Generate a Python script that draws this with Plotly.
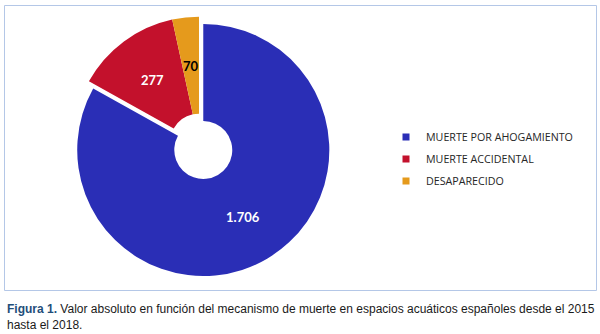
import math
import plotly.graph_objects as go

categories = ["MUERTE POR AHOGAMIENTO", "MUERTE ACCIDENTAL", "DESAPARECIDO"]
values = [1706, 277, 70]
value_labels = ["1.706", "277", "70"]
colors = ["#2A2EB6", "#C3112C", "#E59A1C"]
label_colors = ["white", "white", "black"]
pulls = [0.067, 0, 0]
HOLE = 0.23

W, H = 600, 334
# pie placement (pixels from top-left)
CX, CY, HALF = 199.0, 142.7, 134.5
R = HALF / (1 + max(pulls))  # radius plotly gives the pie

fig = go.Figure()

fig.add_trace(go.Pie(
    labels=categories,
    values=values,
    textinfo="none",
    marker=dict(colors=colors, line=dict(width=0)),
    sort=False,
    direction="clockwise",
    rotation=0,
    hole=HOLE,
    pull=pulls,
    showlegend=False,
    domain=dict(x=[(CX - HALF) / W, (CX + HALF) / W],
                y=[(H - CY - HALF) / H, (H - CY + HALF) / H]),
    hoverinfo="label+value",
))

# value labels placed in the middle of each ring segment
total = sum(values)
annotations = []
cum = 0
for v, txt, pcol, pull in zip(values, value_labels, label_colors, pulls):
    mid = (cum + v / 2) / total * 2 * math.pi
    cum += v
    dist = pull * R + R * (1 + HOLE) / 2
    px = CX + dist * math.sin(mid)
    py = CY - dist * math.cos(mid)
    annotations.append(dict(
        xref="paper", yref="paper", x=px / W, y=1 - py / H,
        xanchor="center", yanchor="middle", showarrow=False,
        text=f"<b>{txt}</b>",
        font=dict(family="Lato", size=13, color=pcol),
    ))

# legend entries (small square symbols like the original)
for i, (cat, col) in enumerate(zip(categories, colors)):
    fig.add_trace(go.Scatter(
        x=[None], y=[None], mode="markers", name=cat,
        marker=dict(symbol="square", size=7, color=col),
        legendgroup=f"g{i}", showlegend=True,
    ))

annotations.append(dict(
    xref="paper", yref="paper", x=5 / W, y=(H - 300) / H,
    xanchor="left", yanchor="top", align="left", showarrow=False,
    font=dict(family="Liberation Sans", size=12, color="#1a1a1a"),
    text='<b><span style="color:#1F4E7A">Figura 1.</span></b> Valor absoluto en función del mecanismo de muerte en espacios acuáticos españoles desde el 2015<br>hasta el 2018.',
))

fig.update_layout(
    width=W, height=H,
    margin=dict(l=0, r=0, t=0, b=0),
    paper_bgcolor="white", plot_bgcolor="white",
    xaxis=dict(visible=False), yaxis=dict(visible=False),
    legend=dict(
        x=(426 - 40) / W, xanchor="left",
        y=(H - 122.5) / H, yanchor="top",
        font=dict(family="Open Sans", size=10.7, color="#262626"),
        bgcolor="rgba(0,0,0,0)",
        tracegroupgap=3,
        itemclick=False, itemdoubleclick=False,
    ),
    shapes=[dict(
        type="rect", xref="paper", yref="paper",
        x0=4.5 / W, x1=596.5 / W, y0=(H - 290.5) / H, y1=(H - 5.5) / H,
        line=dict(color="#B4C7E7", width=1), fillcolor="rgba(0,0,0,0)", layer="below",
    )],
    annotations=annotations,
)

fig.write_html("out.html")
